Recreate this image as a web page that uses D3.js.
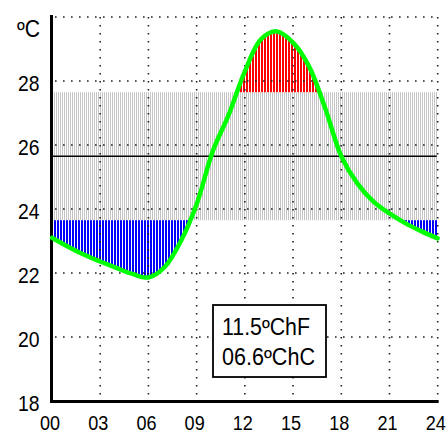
<!DOCTYPE html>
<html>
<head>
<meta charset="utf-8">
<script src="https://cdn.jsdelivr.net/npm/d3@7"></script>
<style>
  html, body { margin: 0; padding: 0; background: #fff; }
  svg { display: block; }
  text { font-family: "Liberation Sans", Arial, sans-serif; fill: #000; }
</style>
</head>
<body>
<div id="chart"></div>
<script>
// ---- data ----
const hours = [0,1,2,3,4,5,6,7,8,9,10,11,12,13,14,15,16,17,18,19,20,21,22,23,24];
const temps = [23.1,22.82,22.57,22.36,22.16,21.97,21.86,22.18,22.98,24.15,25.8,26.95,28.3,29.3,29.55,29.2,28.45,27.15,25.65,24.8,24.23,23.86,23.55,23.3,23.08];
const xTickValues = [0,3,6,9,12,15,18,21,24];
const yTickValues = [18,20,22,24,26,28];
const yGridValues = [20,22,24,26,28,30];
const xGridValues = [3,6,9,12,15,18,21,24];
const unitLabel = "ºC";
const bandLow = 23.65;
const bandHigh = 27.65;
const meanTemp = 25.65;
const boxLines = ["11.5ºChF", "06.6ºChC"];

// ---- layout ----
const W = 447, H = 435;
const x = d3.scaleLinear().domain([0, 24]).range([52, 437.7]);
const y = d3.scaleLinear().domain([18, 30]).range([401, 17]);

const svg = d3.select("#chart").append("svg").attr("width", W).attr("height", H);
const defs = svg.append("defs");

function stripe(id, color, w, cw) {
  const p = defs.append("pattern").attr("id", id).attr("patternUnits", "userSpaceOnUse")
    .attr("width", w).attr("height", 4);
  p.append("rect").attr("width", w).attr("height", 4).attr("fill", "#fff");
  p.append("rect").attr("width", cw).attr("height", 4).attr("fill", color);
}
stripe("pGray", "#c4c4c4", 2, 1);
stripe("pBlue", "#0000ff", 3, 2);
stripe("pRed", "#ff0000", 3, 2);

const data = hours.map((h, i) => ({ h, t: temps[i] }));
const curve = d3.curveCatmullRom.alpha(0.5);

defs.append("clipPath").attr("id", "aboveCurve").append("path")
  .attr("d", d3.area().x(d => x(d.h)).y0(0).y1(d => y(d.t)).curve(curve)(data));
defs.append("clipPath").attr("id", "belowCurve").append("path")
  .attr("d", d3.area().x(d => x(d.h)).y0(H).y1(d => y(d.t)).curve(curve)(data));

// gray comfort band
svg.append("rect")
  .attr("x", x(0)).attr("width", x(24) - x(0))
  .attr("y", y(bandHigh)).attr("height", y(bandLow) - y(bandHigh))
  .attr("fill", "url(#pGray)");

// blue: below band, above curve
svg.append("rect")
  .attr("x", x(0)).attr("width", x(24) - x(0))
  .attr("y", y(bandLow)).attr("height", y(18) - y(bandLow))
  .attr("fill", "url(#pBlue)")
  .attr("clip-path", "url(#aboveCurve)");

// red: above band, below curve
svg.append("rect")
  .attr("x", x(0)).attr("width", x(24) - x(0))
  .attr("y", y(30)).attr("height", y(bandHigh) - y(30))
  .attr("fill", "url(#pRed)")
  .attr("clip-path", "url(#belowCurve)");

// dotted grid
const grid = svg.append("g").attr("stroke", "#222").attr("stroke-width", 1.6)
  .attr("stroke-dasharray", "1.6 6.4");
grid.selectAll("line.h").data(yGridValues).join("line").attr("class", "h")
  .attr("x1", x(0) + 3).attr("x2", x(24)).attr("y1", d => y(d)).attr("y2", d => y(d));
grid.selectAll("line.v").data(xGridValues).join("line").attr("class", "v")
  .attr("x1", d => x(d)).attr("x2", d => x(d)).attr("y1", y(30)).attr("y2", y(18) - 2);

// mean line
svg.append("line")
  .attr("x1", x(0)).attr("x2", x(24) - 1)
  .attr("y1", y(meanTemp)).attr("y2", y(meanTemp))
  .attr("stroke", "#000").attr("stroke-width", 1.6);

// info box
const box = svg.append("g");
box.append("rect").attr("x", 213).attr("y", 305).attr("width", 113).attr("height", 72)
  .attr("fill", "#fff").attr("stroke", "#000").attr("stroke-width", 1.8);
box.selectAll("text").data(boxLines).join("text")
  .attr("x", 222).attr("y", (d, i) => 335 + i * 30)
  .attr("font-size", 23)
  .attr("textLength", (d, i) => i === 0 ? 88 : 93)
  .attr("lengthAdjust", "spacingAndGlyphs")
  .text(d => d);

// axes lines
svg.append("line").attr("x1", x(0) - 0.5).attr("x2", x(0) - 0.5).attr("y1", 15).attr("y2", y(18) + 2)
  .attr("stroke", "#000").attr("stroke-width", 3);
svg.append("line").attr("x1", x(0) - 2).attr("x2", x(24) + 1).attr("y1", y(18) + 0.5).attr("y2", y(18) + 0.5)
  .attr("stroke", "#000").attr("stroke-width", 3);

// temperature curve
svg.append("path")
  .attr("d", d3.line().x(d => x(d.h)).y(d => y(d.t)).curve(curve)(data))
  .attr("fill", "none").attr("stroke", "#00ff00").attr("stroke-width", 4.5)
  .attr("stroke-linejoin", "round").attr("stroke-linecap", "round");

// y axis labels
const gy = svg.append("g").attr("transform", "translate(39.5,0)")
  .call(d3.axisLeft(y).tickValues(yTickValues).tickSize(0).tickPadding(0));
gy.select(".domain").remove();
gy.selectAll("text").attr("x", 0).attr("dy", null).attr("y", 9.5)
  .attr("font-size", 22).attr("font-family", "Liberation Sans, Arial, sans-serif")
  .attr("fill", "#000").attr("transform", "scale(0.88,1)");

svg.append("text").attr("x", 0).attr("y", 0)
  .attr("transform", "translate(40,37) scale(0.92,1)")
  .attr("text-anchor", "end").attr("font-size", 23).text(unitLabel);

// x axis labels
const gx = svg.append("g").attr("transform", `translate(-2.5,${y(18)})`)
  .call(d3.axisBottom(x).tickValues(xTickValues).tickSize(0).tickPadding(0).tickFormat(d3.format("02d")));
gx.select(".domain").remove();
gx.selectAll("text").attr("y", 29.5).attr("dy", null)
  .attr("font-size", 21).attr("font-family", "Liberation Sans, Arial, sans-serif")
  .attr("fill", "#000").attr("transform", "scale(0.86,1)");
</script>
</body>
</html>
